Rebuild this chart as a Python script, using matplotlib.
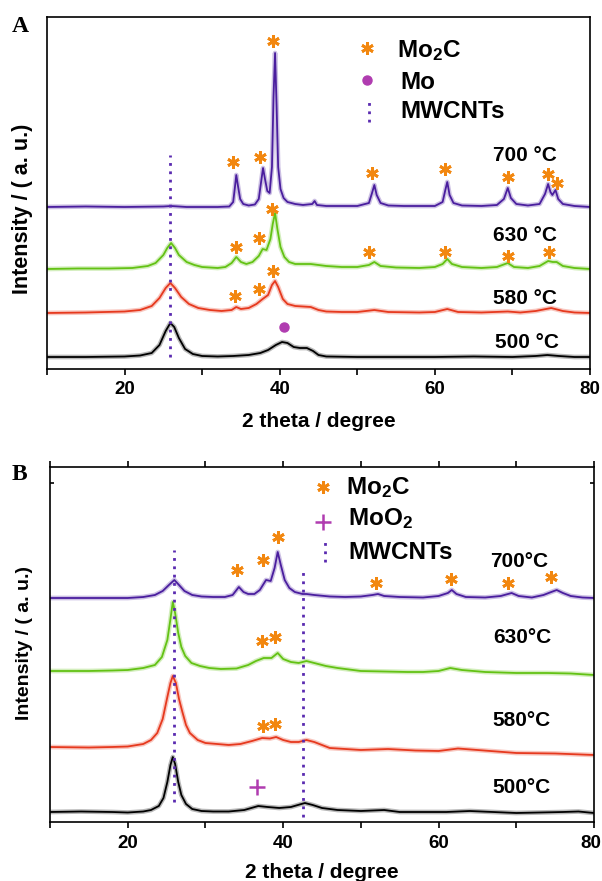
import numpy as np
import matplotlib
matplotlib.use("Agg")
import matplotlib.pyplot as plt
import matplotlib.transforms as mtransforms

plt.rcParams["font.family"] = ["Liberation Sans", "DejaVu Sans"]
plt.rcParams["font.weight"] = "bold"
plt.rcParams["mathtext.fontset"] = "custom"
plt.rcParams["mathtext.rm"] = "Liberation Sans:bold"
plt.rcParams["mathtext.it"] = "Liberation Sans:bold"
plt.rcParams["mathtext.bf"] = "Liberation Sans:bold"

# ---------------- data (arbitrary intensity units) ----------------
temps = ["700", "630", "580", "500"]

# panel A : curves relative to their own baseline
a700_x = [10, 15, 20, 25, 26, 28, 30, 32, 33.5, 34.0, 34.2, 34.4, 34.6, 34.9, 35.3, 36, 36.8, 37.3, 37.6, 37.85,
          38.1, 38.4, 38.7, 39.0, 39.2, 39.4, 39.6, 39.8, 40.1, 40.5, 41, 42, 43, 44.2, 44.5, 44.8, 46, 48, 50, 51.5,
          51.9, 52.2, 52.5, 53, 54, 56, 58, 60, 61, 61.35, 61.6, 61.9, 62.4, 63.5, 66, 68, 68.9, 69.4, 69.8, 70.5,
          72, 73.5, 74.2, 74.6, 74.9, 75.15, 75.55, 75.9, 76.5, 78, 80]
a700_y = [0, 0.5, 0, 0.5, 1, 0, 0, 0, 0.5, 5, 18, 32, 22, 8, 3, 1.5, 2.5, 8, 25, 39,
          28, 16, 14, 40, 110, 154, 100, 40, 18, 9, 5, 3, 2, 3, 6, 2, 1, 1, 1, 4,
          14, 22, 12, 4, 1.5, 1, 1, 1, 5, 17, 25, 12, 4, 1.5, 1, 2, 8, 19, 9, 3,
          1.5, 3, 13, 23, 15, 12, 17, 8, 3, 1, 0]

a630_x = [10, 14, 18, 21, 23, 24, 25, 25.5, 26, 26.5, 27, 28, 29, 30, 32, 33, 33.8, 34.4, 35, 35.7,
          36.5, 37.3, 37.8, 38.3, 38.8, 39.1, 39.4, 39.7, 40.1, 40.6, 41.2, 42, 43, 44, 45, 46, 48, 50, 51.5, 52.2,
          53, 55, 58, 60, 61, 61.6, 62.2, 63.5, 66, 68, 69.4, 70.2, 72, 73.5, 74.6, 75.2, 75.7, 76.5, 78, 80]
a630_y = [0, 0.5, 0.5, 1, 3, 6, 14, 21, 26, 21, 14, 7, 4, 2, 1, 2, 6, 12, 7, 5,
          7, 13, 20, 19, 30, 45, 56, 40, 22, 12, 7, 5, 5, 5, 4, 3, 2, 2, 4, 7,
          3, 1.5, 1, 2, 5, 10, 5, 2, 1, 2, 6, 2, 1, 3, 8, 7, 7, 3, 1, 0]

a580_x = [10, 15, 20, 22, 23.5, 24.5, 25.3, 25.9, 26.5, 27.3, 28.3, 29.5, 31, 32.5, 33.8, 34.4, 35, 36, 37, 37.8,
          38.5, 39.0, 39.4, 39.8, 40.4, 41, 42, 43, 44, 45, 46, 48, 50, 52.2, 54, 58, 60, 61.6, 63, 66,
          69.4, 71, 73, 75, 76.5, 78, 80]
a580_y = [0, 0.5, 1.5, 3, 7, 15, 25, 30, 25, 16, 9, 5, 3, 2, 3, 6, 4, 5, 9, 14,
          18, 28, 32, 26, 14, 9, 7, 6.5, 6, 3, 1.5, 1, 1, 3, 1, 0.5, 1, 4, 1, 0.5,
          1.5, 0.5, 2, 5, 2, 0.5, 0]

a500_x = [10, 15, 20, 22, 23.5, 24.5, 25.3, 25.9, 26.4, 27, 27.8, 28.8, 30, 32, 34, 36, 37.5, 38.5, 39.5, 40.3,
          41, 41.8, 42.6, 43.5, 44.3, 45, 46, 50, 55, 60, 65, 70, 73, 74.5, 76, 78, 80]
a500_y = [0, 0, 0.5, 1.5, 4, 12, 26, 34, 30, 19, 8, 3, 1, 0.5, 1, 2, 4, 7, 12, 15,
          14, 10, 9, 9, 6, 2, 0.5, 0, 0, 0, 0.5, 0, 1, 2, 1, 0, 0]

a_offsets = [162, 100, 56, 12]

a_star_x = [34.0, 37.5, 39.1, 51.9, 61.3, 69.4, 74.6, 75.7, 34.4, 37.3, 39.0, 51.5, 61.3, 69.4, 74.7, 34.2, 37.3, 39.1]
a_star_y = [207, 212, 328, 196, 200, 192, 195, 186, 122, 131, 160, 117, 117, 113, 117, 73, 80, 98]
a_mo_x = [40.5]
a_mo_y = [42]
a_cnt_x = [25.9]
a_cnt_lo = [12]
a_cnt_hi = [214]

# panel B
b700_x = [10, 15, 20, 22, 23.5, 24.5, 25.3, 26.0, 26.6, 27.3, 28.3, 29.5, 31, 32.5, 33.5, 34.3, 34.9, 35.5, 36.3, 37,
          37.8, 38.4, 38.9, 39.3, 39.7, 40.2, 40.8, 41.5, 42.5, 43, 44, 46, 48, 50, 51.5, 52.2, 53, 55, 58, 60,
          61.2, 61.7, 62.3, 63.5, 66, 68, 69.4, 70.3, 72, 73.5, 74.5, 75.2, 76, 77, 78.5, 80]
b700_y = [0, 0, 0, 1, 3, 7, 13, 18, 13, 7, 3, 1.5, 1, 1, 3, 11, 6, 4, 4, 8,
          18, 17, 30, 46, 33, 18, 10, 6, 4, 4, 3, 1.5, 1, 1.5, 3, 4, 2, 1, 0.5, 2,
          5, 8, 4, 1, 0.5, 2, 5, 2, 0.5, 3, 6, 8, 5, 2, 0.5, 0]

b630_x = [10, 15, 18, 20, 22, 23.5, 24.4, 25.1, 25.5, 25.8, 26.1, 26.5, 26.9, 27.4, 28.2, 29.3, 30.5, 32, 34, 35.5,
          36.5, 37.5, 38.5, 39.3, 40, 41, 42, 43, 44, 45.5, 47, 50, 53, 56, 58, 60, 61.5, 63, 66, 70,
          74, 77, 80]
b630_y = [0, 0, 0.5, 1, 3, 6, 14, 31, 52, 69, 58, 38, 24, 15, 8, 5, 3, 2, 2.5, 6,
          10, 13, 13, 18, 12, 9, 8, 10, 8, 5, 3, 0, -0.5, -1, -1, 0, 3, 1, -1, -2,
          -2, -2.5, -4]

b580_x = [10, 15, 18, 20, 22, 23, 23.8, 24.5, 25.1, 25.5, 25.8, 26.2, 26.6, 27.0, 27.5, 28.0, 29, 30, 31.5, 33,
          34.5, 36, 37.3, 38.3, 39.1, 40, 41, 42, 43, 44, 46, 50, 53.5, 57, 60, 62.5, 65, 70, 75, 80]
b580_y = [0, -0.5, 0, 0.5, 3, 7, 14, 28, 50, 64, 71, 64, 48, 36, 22, 14, 7, 4, 3, 2,
          3, 6, 9, 8.5, 10, 7, 5, 5, 7, 5, -1, -3, -2, -3.5, -4, -1.5, -3, -6, -6.5, -8]

b500_x = [10, 14, 18, 20, 22, 23, 24, 24.6, 25.1, 25.5, 25.8, 26.1, 26.5, 26.9, 27.5, 28.3, 29.5, 31, 33, 35,
          36.8, 38, 39.5, 41, 42.8, 43.8, 45, 47, 50, 53, 55, 58, 61, 64, 67, 70, 73, 76, 78, 80]
b500_y = [0, 0.5, 0, -0.5, 0.5, 2, 6, 14, 30, 47, 55, 48, 30, 17, 8, 3, 1, 0.5, 0.5, 2,
          6, 5, 4, 5, 9, 7, 4, 2, 1, 2, 0, 0, 0, 1, 0, -1, -0.5, 0, 0.5, -1]

b_offsets = [224, 151, 75, 10]

b_star_x = [34.1, 37.4, 39.3, 51.9, 61.6, 68.9, 74.5, 37.3, 38.95, 37.4, 39.0]
b_star_y = [252, 262, 285, 239, 243, 239, 245, 181, 185, 96, 98]
b_moo2_x = [36.6]
b_moo2_y = [35]
b_cnt_x = [26.0, 42.6]
b_cnt_lo = [20, 5]
b_cnt_hi = [272, 255]

# ---------------- styles ----------------
colors = ["#4A1E9E", "#63C214", "#E6391E", "#000000"]
star_c = "#F2870F"
mo_c = "#B03CB0"
cnt_c = "#5A2AB0"
FS_TICK = 13.5
STAR = dict(ls="none", marker=(6, 2, 0), ms=9, mew=2.0, color=star_c)


def cnt_line(ax, x, y0, y1, **kw):
    ax.plot([x, x], [y0, y1], color=cnt_c, lw=2.0, ls=(0, (1, 2)), zorder=4, **kw)


def style_axes(ax, ymax, top_ticks, ylab_size, ylab_pos, xlab_pad):
    ax.set_xlim(10, 80)
    ax.set_ylim(0, ymax)
    ax.set_xticks([20, 40, 60, 80])
    ax.set_xticks([10, 30, 50, 70], minor=True)
    ax.tick_params(axis="x", which="both", direction="out", length=4, width=1.2,
                   labelsize=FS_TICK, pad=5, top=top_ticks)
    for s in ax.spines.values():
        s.set_linewidth(1.2)
    ax.set_xlabel("2 theta / degree", fontsize=15, fontweight="bold", labelpad=xlab_pad)
    ax.set_ylabel("Intensity / ( a. u.)", fontsize=ylab_size, fontweight="bold")
    ax.yaxis.set_label_coords(*ylab_pos)


def draw_curves(ax, xs, ys, offsets):
    for x, y, off, c in zip(xs, ys, offsets, colors):
        yy = np.array(y) + off
        ax.plot(x, yy, color=c, lw=3.4, alpha=0.28, solid_joinstyle="round")
        ax.plot(x, yy, color=c, lw=1.3, solid_joinstyle="round")


fig = plt.figure(figsize=(6.02, 8.81), dpi=100)

# ---------------- panel A ----------------
axA = fig.add_axes([47 / 602, 1 - 369 / 881, 543 / 602, 352 / 881])
draw_curves(axA, [a700_x, a630_x, a580_x, a500_x], [a700_y, a630_y, a580_y, a500_y], a_offsets)
for x, lo, hi in zip(a_cnt_x, a_cnt_lo, a_cnt_hi):
    cnt_line(axA, x, lo, hi)
axA.plot(a_star_x, a_star_y, zorder=5, **STAR)
axA.plot(a_mo_x, a_mo_y, ls="none", marker="o", ms=6.5, color=mo_c, zorder=5)
style_axes(axA, 352, False, 15.5, (-0.026, 0.455), 10)
axA.set_yticks([])

# legend A
tA = axA.transAxes
axA.plot([0.589], [0.912], transform=tA, **STAR)
axA.plot([0.589], [0.821], transform=tA, ls="none", marker="o", ms=6.5, color=mo_c)
axA.plot([0.593, 0.593], [0.702, 0.764], transform=tA, color=cnt_c, lw=2.0, ls=(0, (1, 2)))
axA.text(0.645, 0.886, "Mo$_2$C", transform=tA, fontsize=17.5, fontweight="bold", va="baseline")
axA.text(0.650, 0.795, "Mo", transform=tA, fontsize=17.5, fontweight="bold", va="baseline")
axA.text(0.650, 0.713, "MWCNTs", transform=tA, fontsize=17.5, fontweight="bold", va="baseline")

a_lab_x = [0.821, 0.821, 0.821, 0.825]
a_lab_y = [0.591, 0.364, 0.185, 0.060]
for t, lx, ly in zip(temps, a_lab_x, a_lab_y):
    axA.text(lx, ly, t + " °C", transform=tA, fontsize=15, fontweight="bold", va="baseline")

fig.text(12 / 602, 1 - 27 / 881, "A", fontsize=17, fontweight="bold", family="Liberation Serif",
         va="center", ha="left")

# ---------------- panel B ----------------
axB = fig.add_axes([50 / 602, 1 - 822 / 881, 544 / 602, 355 / 881])
draw_curves(axB, [b700_x, b630_x, b580_x, b500_x], [b700_y, b630_y, b580_y, b500_y], b_offsets)
for x, lo, hi in zip(b_cnt_x, b_cnt_lo, b_cnt_hi):
    cnt_line(axB, x, lo, hi)
axB.plot(b_star_x, b_star_y, zorder=5, **STAR)
axB.plot(b_moo2_x, b_moo2_y, ls="none", marker="+", ms=12, mew=1.8, color=mo_c, zorder=5)
style_axes(axB, 355, True, 14, (-0.031, 0.504), 8)
axB.set_yticks([339])
axB.set_yticklabels([])
axB.tick_params(axis="y", direction="in", length=3, width=1.2, right=True)
# keep the last tick label inside the picture
last = axB.get_xticklabels()[-1]
last.set_transform(last.get_transform() + mtransforms.ScaledTranslation(-3 / 100, 0, fig.dpi_scale_trans))

tB = axB.transAxes
axB.plot([0.502], [0.944], transform=tB, **STAR)
axB.plot([0.502], [0.845], transform=tB, ls="none", marker="+", ms=12, mew=1.8, color=mo_c)
axB.plot([0.506, 0.506], [0.732, 0.794], transform=tB, color=cnt_c, lw=2.0, ls=(0, (1, 2)))
axB.text(0.544, 0.924, "Mo$_2$C", transform=tB, fontsize=17.5, fontweight="bold", va="baseline")
axB.text(0.548, 0.837, "MoO$_2$", transform=tB, fontsize=17.5, fontweight="bold", va="baseline")
axB.text(0.548, 0.741, "MWCNTs", transform=tB, fontsize=17.5, fontweight="bold", va="baseline")

b_lab_x = [0.809, 0.814, 0.814, 0.814]
b_lab_y = [0.718, 0.504, 0.270, 0.082]
for t, lx, ly in zip(temps, b_lab_x, b_lab_y):
    axB.text(lx, ly, t + "°C", transform=tB, fontsize=15, fontweight="bold", va="baseline")

fig.text(12 / 602, 1 - 475 / 881, "B", fontsize=17, fontweight="bold", family="Liberation Serif",
         va="center", ha="left")

fig.savefig("out.png", dpi=100)
